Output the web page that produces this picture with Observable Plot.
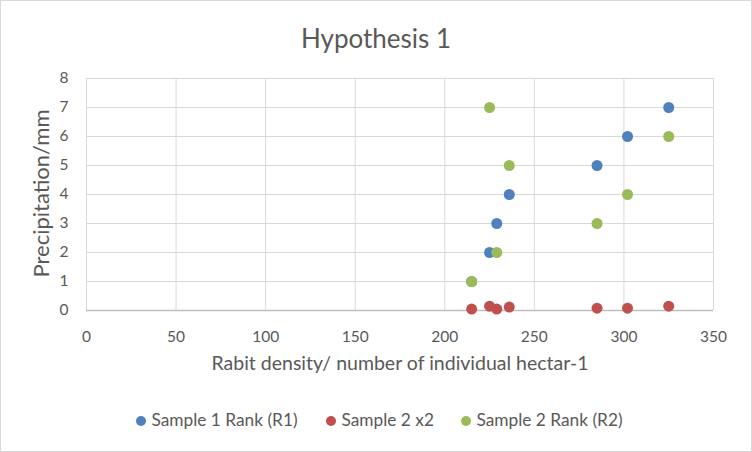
<!DOCTYPE html>
<html>
<head>
<meta charset="utf-8">
<script src="https://cdn.jsdelivr.net/npm/d3@7"></script>
<script src="https://cdn.jsdelivr.net/npm/@observablehq/plot@0.6"></script>
<style>
  html, body { margin: 0; padding: 0; background: #fff; }
  #chart { position: relative; width: 752px; height: 452px; font-family: Lato, "Open Sans", sans-serif; color: #595959; overflow: hidden; }
  #frame { position: absolute; left: 0; top: 0; width: 752px; height: 452px; box-sizing: border-box; border: 1px solid #d9d9d9; pointer-events: none; }
  #title { position: absolute; left: 0; width: 752px; top: 22px; height: 32px; line-height: 32px; text-align: center; font-size: 26px; }
  #plot { position: absolute; left: 0; top: 56px; }
  .leg { position: absolute; top: 410px; height: 20px; line-height: 20px; font-size: 17.3px; white-space: nowrap; }
  .leg .dot { display: inline-block; width: 10px; height: 10px; border-radius: 50%; vertical-align: middle; margin-right: 6px; position: relative; top: -1px; }
</style>
</head>
<body>
<div id="chart">
  <div id="title"></div>
  <div id="plot"></div>
  <div id="legend"></div>
  <div id="frame"></div>
</div>
<script>
// ---- data ----
const title = "Hypothesis 1";
const xLabel = "Rabit density/ number of individual hectar-1";
const yLabel = "Precipitation/mm";
const seriesNames = ["Sample 1 Rank (R1)", "Sample 2 x2", "Sample 2 Rank (R2)"];
const seriesColors = ["#4F81BD", "#C0504D", "#9BBB59"];
const density = [215, 225, 229, 236, 285, 302, 325];
const sample1Rank = [1, 2, 3, 4, 5, 6, 7];
const sample2x2 = [0.05, 0.15, 0.05, 0.12, 0.08, 0.08, 0.15];
const sample2Rank = [1, 7, 2, 5, 3, 4, 6];
const xTicks = [0, 50, 100, 150, 200, 250, 300, 350];
const yTicks = [0, 1, 2, 3, 4, 5, 6, 7, 8];
const legendDotX = [135.5, 325.5, 460.5];

// ---- build table ----
const seriesValues = [sample1Rank, sample2x2, sample2Rank];
const rows = [];
seriesNames.forEach((name, s) => {
  density.forEach((d, i) => rows.push({series: name, x: d, y: seriesValues[s][i]}));
});

document.getElementById("title").textContent = title;

const plot = Plot.plot({
  width: 752,
  height: 330,
  marginLeft: 86,
  marginRight: 39,
  marginTop: 22,
  marginBottom: 76,
  style: {fontFamily: "Lato, 'Open Sans', sans-serif", fontSize: "15.5px", color: "#595959", background: "transparent"},
  x: {domain: [0, 350], ticks: xTicks, label: null},
  y: {domain: [0, 8], ticks: yTicks, label: null},
  color: {domain: seriesNames, range: seriesColors},
  marks: [
    Plot.gridX(xTicks, {stroke: "#d9d9d9", strokeOpacity: 1, strokeWidth: 1}),
    Plot.gridY(yTicks, {stroke: "#d9d9d9", strokeOpacity: 1, strokeWidth: 1}),
    Plot.ruleY([0], {stroke: "#bfbfbf", strokeWidth: 1.5}),
    Plot.axisX(xTicks, {tickSize: 0, tickPadding: 20, fill: "#595959"}),
    Plot.axisY(yTicks, {tickSize: 0, tickPadding: 18, fill: "#595959"}),
    Plot.dot(rows, {x: "x", y: "y", fill: "series", r: 5.5, stroke: null}),
    Plot.text([xLabel], {text: d => d, frameAnchor: "bottom", dy: 59, fill: "#595959", fontSize: 19.5}),
    Plot.text([yLabel], {text: d => d, frameAnchor: "left", textAnchor: "middle", dx: -45, dy: -1, rotate: -90, fill: "#595959", fontSize: 22})
  ]
});
document.getElementById("plot").appendChild(plot);

const legend = document.getElementById("legend");
seriesNames.forEach((name, i) => {
  const item = document.createElement("div");
  item.className = "leg";
  item.style.left = legendDotX[i] + "px";
  const dot = document.createElement("span");
  dot.className = "dot";
  dot.style.background = seriesColors[i];
  item.appendChild(dot);
  item.appendChild(document.createTextNode(name));
  legend.appendChild(item);
});
</script>
</body>
</html>
